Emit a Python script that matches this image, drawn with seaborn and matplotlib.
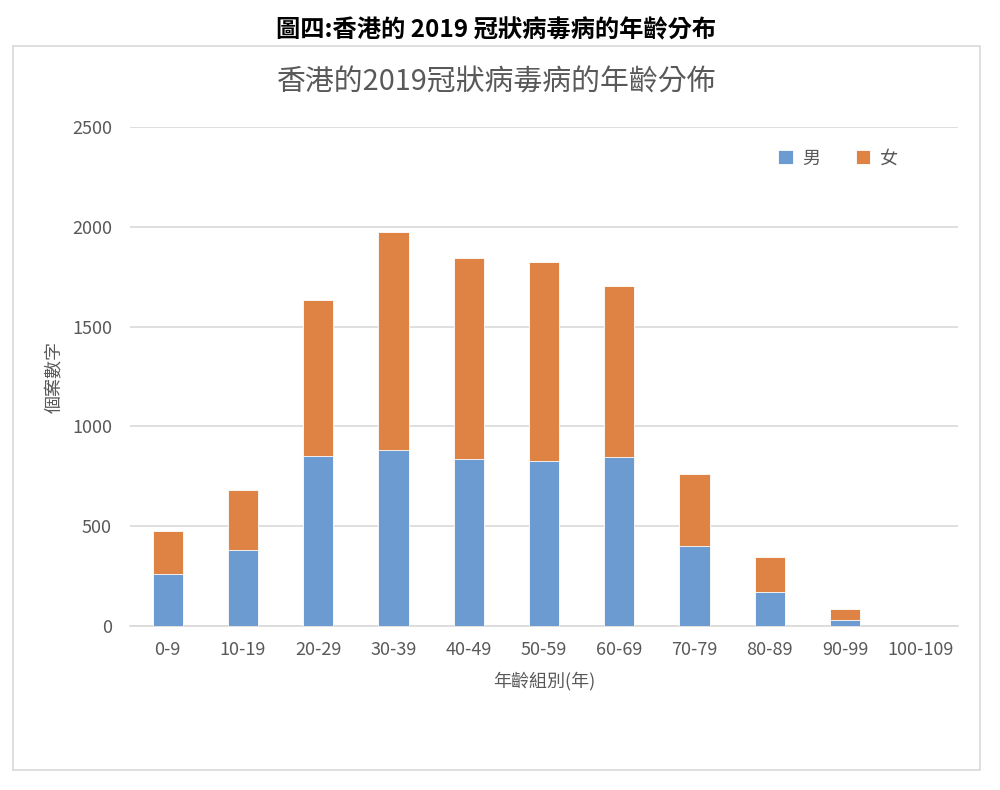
import pandas as pd
import seaborn as sns
import matplotlib.pyplot as plt
from matplotlib.patches import Rectangle

# Data
age_groups = ["0-9", "10-19", "20-29", "30-39", "40-49", "50-59",
              "60-69", "70-79", "80-89", "90-99", "100-109"]
male = [260, 380, 853, 883, 835, 827, 848, 402, 169, 29, 0]
female = [217, 301, 778, 1091, 1007, 995, 854, 358, 175, 56, 0]

df = pd.DataFrame({"age": age_groups, "male": male, "female": female})
df["total"] = df["male"] + df["female"]

blue = "#6B9BD1"
orange = "#DE8344"
grey = "#595959"

sns.set_theme(style="white")
plt.rcParams["font.family"] = ["Noto Sans CJK TC", "DejaVu Sans"]

fig = plt.figure(figsize=(10, 7.9), dpi=100)
ax = fig.add_axes([0.13, 0.2076, 0.828, 0.6316])

# stacked bars: total (orange) behind, male (blue) in front
sns.barplot(data=df, x="age", y="total", color=orange, width=0.4,
            saturation=1, ax=ax, label="女", zorder=3, linewidth=0.6)
sns.barplot(data=df, x="age", y="male", color=blue, width=0.4,
            saturation=1, ax=ax, label="男", zorder=4, linewidth=0.6)

ax.set_ylim(0, 2500)
ax.set_yticks(range(0, 2501, 500))
ax.yaxis.grid(True, color="#D9D9D9", linewidth=1.2, zorder=0)
for s in ["top", "right", "left"]:
    ax.spines[s].set_visible(False)
ax.spines["bottom"].set_color("#D9D9D9")
ax.spines["bottom"].set_linewidth(1.2)
ax.tick_params(axis="both", length=0, labelsize=13, labelcolor=grey)
ax.tick_params(axis="y", pad=13)
ax.tick_params(axis="x", pad=11)

ax.set_xlabel("年齡組別(年)", fontsize=13, color=grey, labelpad=9)
ax.set_ylabel("個案數字", fontsize=13, color=grey, labelpad=6)

handles, labels = ax.get_legend_handles_labels()
order = [labels.index("男"), labels.index("女")]
ax.legend([handles[i] for i in order], [labels[i] for i in order],
          loc="center", bbox_to_anchor=(0.855, 0.937), ncol=2, frameon=False,
          handlelength=0.8, handleheight=0.8, columnspacing=2.0,
          handletextpad=0.5, fontsize=13, labelcolor=grey)

# chart title and page heading
fig.text(0.497, 0.896, "香港的2019冠狀病毒病的年齡分佈", ha="center", va="center",
         fontsize=20.8, color=grey)
fig.text(0.496, 0.962, "圖四:香港的 2019 冠狀病毒病的年齡分布", ha="center", va="center",
         fontsize=17.5, fontweight="bold", color="black")

# outer chart frame
fig.patches.append(Rectangle((0.013, 1 - 770 / 790), 0.967, 724 / 790,
                             transform=fig.transFigure, fill=False,
                             edgecolor="#D9D9D9", linewidth=1.2))

fig.savefig("out.png", dpi=100)
